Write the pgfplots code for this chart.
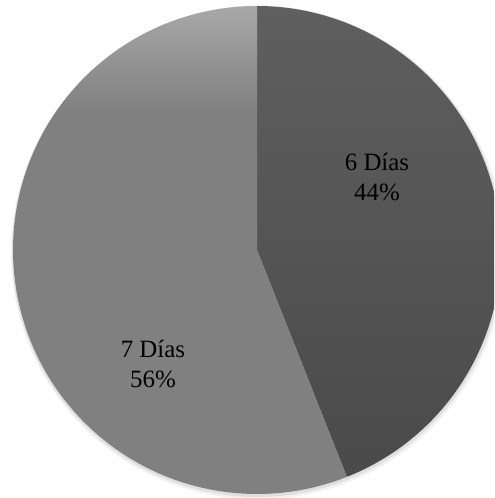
\documentclass[border=0pt]{standalone}
\usepackage{pgfplots}
\pgfplotsset{compat=1.18}
\usepackage{fontspec}
\setmainfont{Liberation Serif}
\definecolor{darkTop}{HTML}{5F5F5F}
\definecolor{darkBot}{HTML}{4A4A4A}
\definecolor{lightTop}{HTML}{A8A8A8}
\definecolor{lightMid}{HTML}{808080}
\pgfdeclareverticalshading{lightpie}{100bp}{color(0bp)=(lightMid); color(64bp)=(lightMid); color(75bp)=(lightTop); color(100bp)=(lightTop)}
\begin{document}
\begin{tikzpicture}
\def\cx{257}\def\cy{248}\def\r{244}
% data: share of each category (percent)
\pgfmathsetmacro{\va}{44}
\pgfmathsetmacro{\vb}{56}
\pgfmathsetmacro{\aEnd}{90-360*\va/(\va+\vb)}
\begin{axis}[name=ax, scale only axis, width=4.94in, height=4.98in,
  xmin=0, xmax=494, ymin=0, ymax=498, hide axis, clip=true]
% soft shadow
\addplot[draw=none, fill=black, fill opacity=0.05, domain=0:360, samples=181]
  ({\cx+1+(\r+3)*cos(x)},{\cy-2.5+(\r+3)*sin(x)}) -- cycle;
\addplot[draw=none, fill=black, fill opacity=0.08, domain=0:360, samples=181]
  ({\cx+0.5+(\r+1.5)*cos(x)},{\cy-1.5+(\r+1.5)*sin(x)}) -- cycle;
% 6 Dias slice
\addplot[draw=none, top color=darkTop, bottom color=darkBot, domain=\aEnd:90, samples=120]
  ({\cx+\r*cos(x)},{\cy+\r*sin(x)}) -- (axis cs:\cx,\cy) -- cycle;
% 7 Dias slice
\addplot[draw=none, shade, shading=lightpie, domain=-270:\aEnd, samples=160]
  ({\cx+\r*cos(x)},{\cy+\r*sin(x)}) -- (axis cs:\cx,\cy) -- cycle;
\node[align=center, font=\fontsize{18}{21.6}\selectfont, text=black] at (axis cs:377,321) {6 Días\\44\%};
\node[align=center, font=\fontsize{18}{21.6}\selectfont, text=black] at (axis cs:153,134) {7 Días\\56\%};
\end{axis}
\pgfresetboundingbox
\useasboundingbox (ax.south west) rectangle (ax.north east);
\end{tikzpicture}
\end{document}
